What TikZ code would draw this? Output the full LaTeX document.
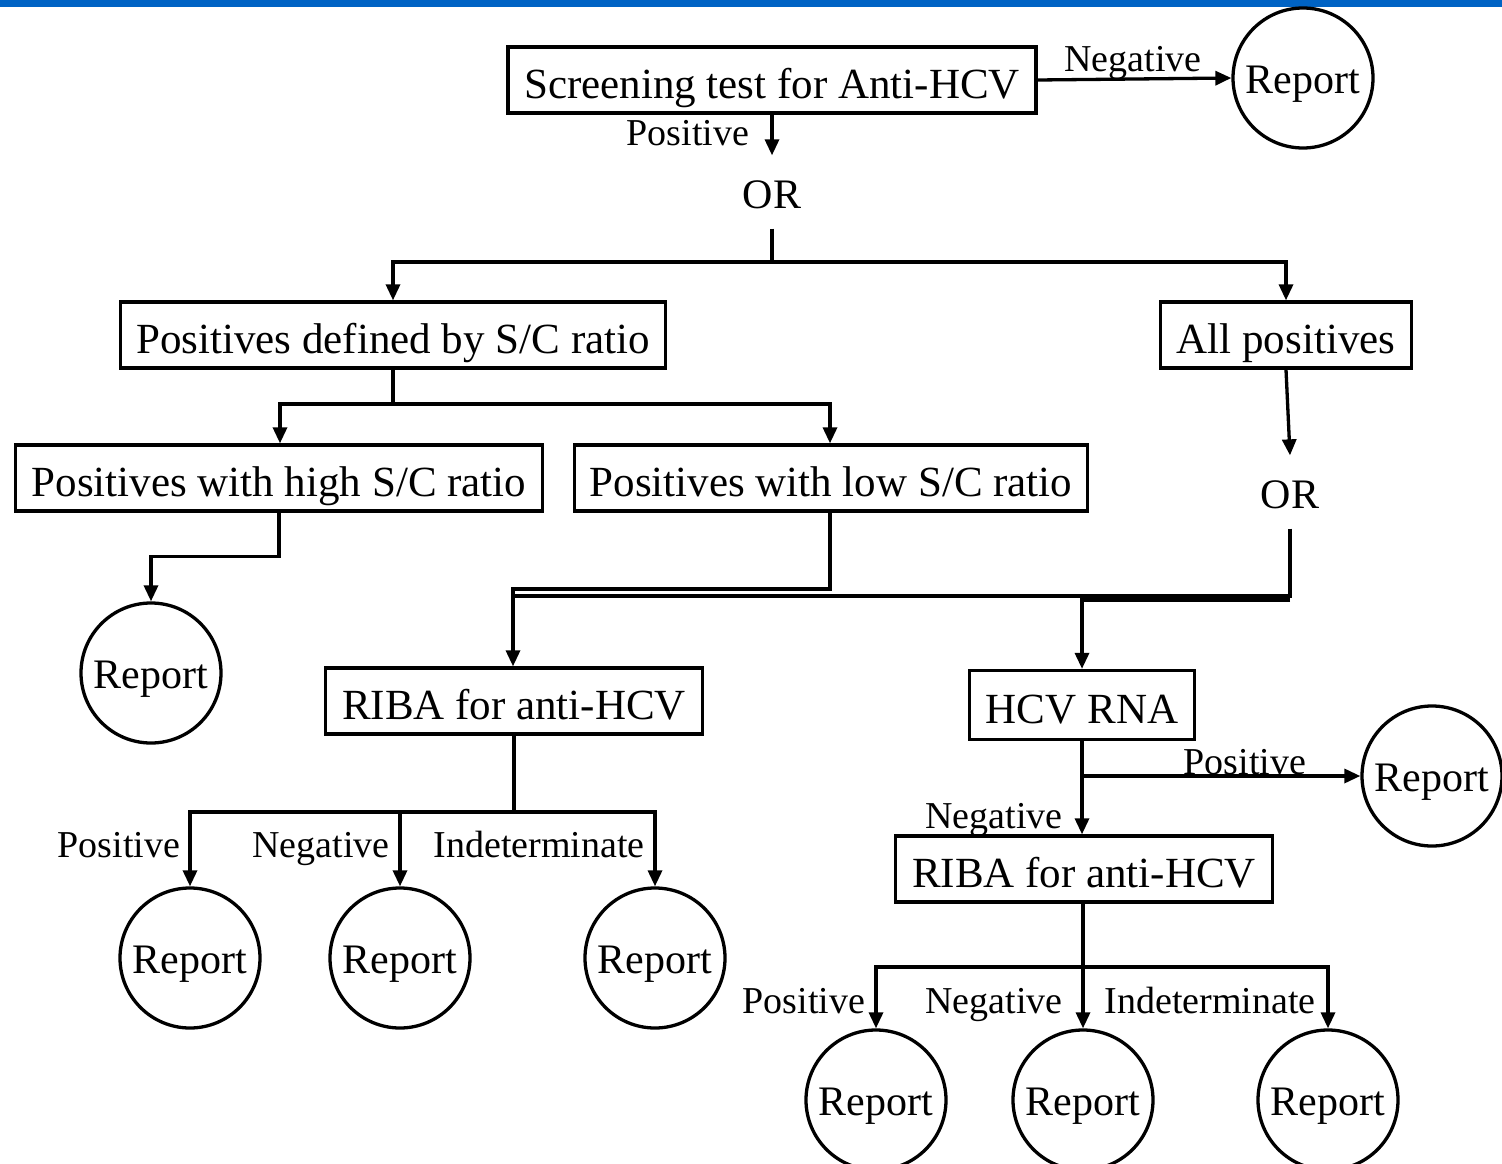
\documentclass[tikz,border=0pt]{standalone}
\usepackage{fontspec}
\setmainfont{Liberation Serif}
\usetikzlibrary{arrows.meta}
\definecolor{topblue}{RGB}{0,99,196}
\begin{document}
\begin{tikzpicture}[x=1pt,y=-1pt,
  line width=3.3pt,
  arr/.style={-{Triangle[length=16pt,width=14pt]}},
  box/.style={draw,rectangle,inner sep=0pt,minimum height=66pt,text height=36pt,text depth=0pt,font=\fontsize{43}{50}\selectfont},
  rep/.style={draw,circle,inner sep=0pt,minimum size=140pt,text height=30pt,text depth=0pt,font=\fontsize{42}{50}\selectfont},
  ortxt/.style={inner sep=0pt,minimum height=70pt,text height=32pt,text depth=0pt,font=\fontsize{42}{50}\selectfont},
  lbl/.style={inner sep=0pt,anchor=base,font=\fontsize{38}{44}\selectfont}]
\useasboundingbox (0,0) rectangle (1502,1164);
\clip (0,0) rectangle (1502,1164);
\fill[topblue] (0,0) rectangle (1502,7);

% boxes
\node[box,minimum width=528pt] (box1) at (772,80) {Screening test for Anti-HCV};
\node[box,minimum width=545pt] (box2) at (393,335) {Positives defined by S/C ratio};
\node[box,minimum width=251pt] (box3) at (1286,335) {All positives};
\node[box,minimum width=527pt] (box4) at (279,478) {Positives with high S/C ratio};
\node[box,minimum width=513pt] (box5) at (831,478) {Positives with low S/C ratio};
\node[box,minimum width=377pt] (riba1) at (514,701) {RIBA for anti-HCV};
\node[box,minimum width=225pt,minimum height=69pt] (hcv) at (1082,705) {HCV RNA};
\node[box,minimum width=377pt] (riba2) at (1084,869) {RIBA for anti-HCV};

% OR texts
\node[ortxt] (or1) at (772,192) {OR};
\node[ortxt] (or2) at (1290,492) {OR};

% report circles
\node[rep] (r1) at (1303,78) {Report};
\node[rep] (r2) at (151,673) {Report};
\node[rep] (r3) at (190,958) {Report};
\node[rep] (r4) at (400,958) {Report};
\node[rep] (r5) at (655,958) {Report};
\node[rep] (r6) at (1432,776) {Report};
\node[rep] (r7) at (876,1100) {Report};
\node[rep] (r8) at (1083,1100) {Report};
\node[rep] (r9) at (1328,1100) {Report};

% junction coordinates
\coordinate (j1) at (772,262);
\coordinate (j2) at (393,404);
\coordinate (j3) at (513,589);
\coordinate (j4) at (513,596);
\coordinate (j5) at (1290,600);
\coordinate (j6) at (514,812);
\coordinate (j7) at (1082,776);
\coordinate (j8) at (1083,967);

% connectors
\draw[arr] (box1.east) -- (r1.west);
\draw[arr] (box1.south) -- (or1.north);
\draw (or1.south) -- (j1);
\draw[arr] (j1) -| (box2.north);
\draw[arr] (j1) -| (box3.north);
\draw (box2.south) -- (j2);
\draw[arr] (j2) -| ([xshift=1pt]box4.north);
\draw[arr] (j2) -| ([xshift=-1pt]box5.north);
\draw[arr] (box4.south) -- ++(0,44) -| (r2.north);
\draw[arr] ([xshift=-1pt]box5.south) |- (j3) -- (riba1.north -| j3);
\draw[arr] (box3.south) -- (or2.north);
\draw (or2.south) |- (j4);
\draw[arr] (j5) -| (hcv.north);
\draw (riba1.south) -- (j6);
\draw[arr] (j6) -| (r3.north);
\draw[arr] (j6) -| (r4.north);
\draw[arr] (j6) -| (r5.north);
\draw[arr] (hcv.south) -- (riba2.north -| hcv.south);
\draw[arr] (j7) -- (r6.west);
\draw (riba2.south -| j8) -- (j8);
\draw[arr] (j8) -| (r7.north);
\draw[arr] (j8) -- (r8.north);
\draw[arr] (j8) -| (r9.north);

% labels
\node[lbl] (l1) at (1133,71) {Negative};
\node[lbl] (l2) at (688,145) {Positive};
\node[lbl] (l3) at (119,857) {Positive};
\node[lbl] (l4) at (321,857) {Negative};
\node[lbl] (l5) at (539,857) {Indeterminate};
\node[lbl] (l6) at (1245,774) {Positive};
\node[lbl] (l7) at (994,828) {Negative};
\node[lbl] (l8) at (804,1013) {Positive};
\node[lbl] (l9) at (994,1013) {Negative};
\node[lbl] (l10) at (1210,1013) {Indeterminate};
\end{tikzpicture}
\end{document}
